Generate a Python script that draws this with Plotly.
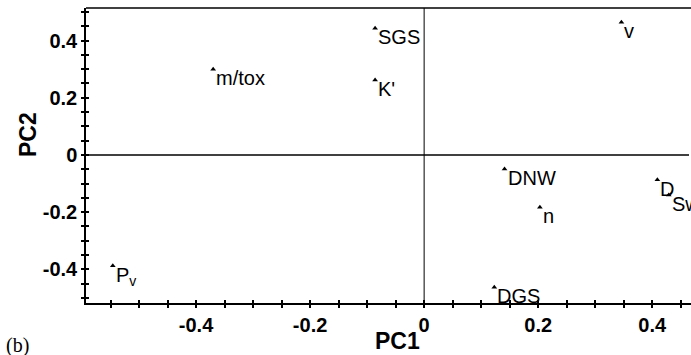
import plotly.graph_objects as go

labels = ["SGS", "K'", "m/tox", "v", "DNW", "n", "D", "Sw", "DGS", "P<sub>v</sub>"]
pc1 = [-0.086, -0.086, -0.370, 0.346, 0.141, 0.203, 0.409, 0.429, 0.123, -0.546]
pc2 = [0.443, 0.262, 0.300, 0.464, -0.049, -0.183, -0.087, -0.140, -0.463, -0.388]

tick_vals = [-0.4, -0.2, 0, 0.2, 0.4]
tick_text = ["-0.4", "-0.2", "0", "0.2", "0.4"]

xr = [-0.593, 0.468]
yr = [-0.518, 0.514]

fig = go.Figure()
fig.add_trace(go.Scatter(
    x=pc1, y=pc2, mode="markers",
    marker=dict(symbol="triangle-up", size=5, color="black"),
    showlegend=False, hoverinfo="skip"))

for lx, ly, lt in zip(pc1, pc2, labels):
    fig.add_annotation(x=lx, y=ly, text=lt, showarrow=False,
                       xanchor="left", yanchor="top", xshift=1, yshift=4,
                       font=dict(family="Liberation Sans, Arial", size=20, color="black"))

fig.add_shape(type="line", x0=0, x1=0, y0=yr[0], y1=yr[1], xref="x", yref="y",
              line=dict(color="black", width=1))
fig.add_shape(type="line", x0=xr[0], x1=xr[1], y0=0, y1=0, xref="x", yref="y",
              line=dict(color="black", width=1.5))
# cover the right plot-area edge artefact, then draw the top border
fig.add_shape(type="line", x0=1, x1=1, y0=0.01, y1=0.99, xref="paper", yref="paper",
              layer="above", line=dict(color="white", width=4))
fig.add_shape(type="line", x0=0, x1=1, y0=1, y1=1, xref="paper", yref="paper",
              line=dict(color="black", width=1.5))

tickfont = dict(family="Liberation Sans, Arial", size=20, color="black", weight="bold")
minor_out = dict(dtick=0.05, tick0=0, ticks="outside", ticklen=3, tickwidth=1.5, tickcolor="black", showgrid=False)
minor_in = dict(dtick=0.05, tick0=0, ticks="inside", ticklen=3, tickwidth=1.5, tickcolor="black", showgrid=False)

fig.update_layout(
    width=691, height=355,
    margin=dict(l=86, r=0, t=8, b=52),
    paper_bgcolor="white", plot_bgcolor="white",
    xaxis=dict(range=xr, tickvals=tick_vals, ticktext=tick_text, ticks="outside",
               ticklen=3, tickwidth=1.5, tickcolor="black", showgrid=False, zeroline=False,
               showline=True, linecolor="black", linewidth=1.5,
               tickfont=tickfont, minor=minor_out),
    yaxis=dict(range=yr, tickvals=tick_vals, ticktext=tick_text, ticks="outside",
               ticklen=3, tickwidth=1.5, tickcolor="black", showgrid=False, zeroline=False,
               showline=True, linecolor="black", linewidth=1.5,
               tickfont=tickfont, minor=minor_out),
    xaxis2=dict(range=xr, overlaying="x", showticklabels=False, tickvals=tick_vals,
                ticks="inside", ticklen=3, tickwidth=1.5, tickcolor="black", showgrid=False,
                zeroline=False, showline=False, minor=minor_in),
    yaxis2=dict(range=yr, overlaying="y", showticklabels=False, tickvals=tick_vals,
                ticks="inside", ticklen=3, tickwidth=1.5, tickcolor="black", showgrid=False,
                zeroline=False, showline=False, minor=minor_in),
)
fig.add_trace(go.Scatter(x=[None], y=[None], xaxis="x2", yaxis="y2", showlegend=False, hoverinfo="skip"))

fig.add_annotation(text="PC1", xref="paper", yref="paper", x=(397 - 86) / 605, y=(303 - 341) / 295,
                   showarrow=False, xanchor="center", yanchor="middle",
                   font=dict(family="Liberation Sans, Arial", size=23, color="black", weight="bold"))
fig.add_annotation(text="PC2", xref="paper", yref="paper", x=(28 - 86) / 605, y=(303 - 135) / 295,
                   showarrow=False, xanchor="center", yanchor="middle", textangle=-90,
                   font=dict(family="Liberation Sans, Arial", size=23, color="black", weight="bold"))
fig.add_annotation(text="(b)", xref="paper", yref="paper", x=(4 - 86) / 605, y=(303 - 345) / 295,
                   showarrow=False, xanchor="left", yanchor="middle",
                   font=dict(family="Liberation Serif, Times New Roman", size=20, color="black"))

fig.write_html("out.html")
